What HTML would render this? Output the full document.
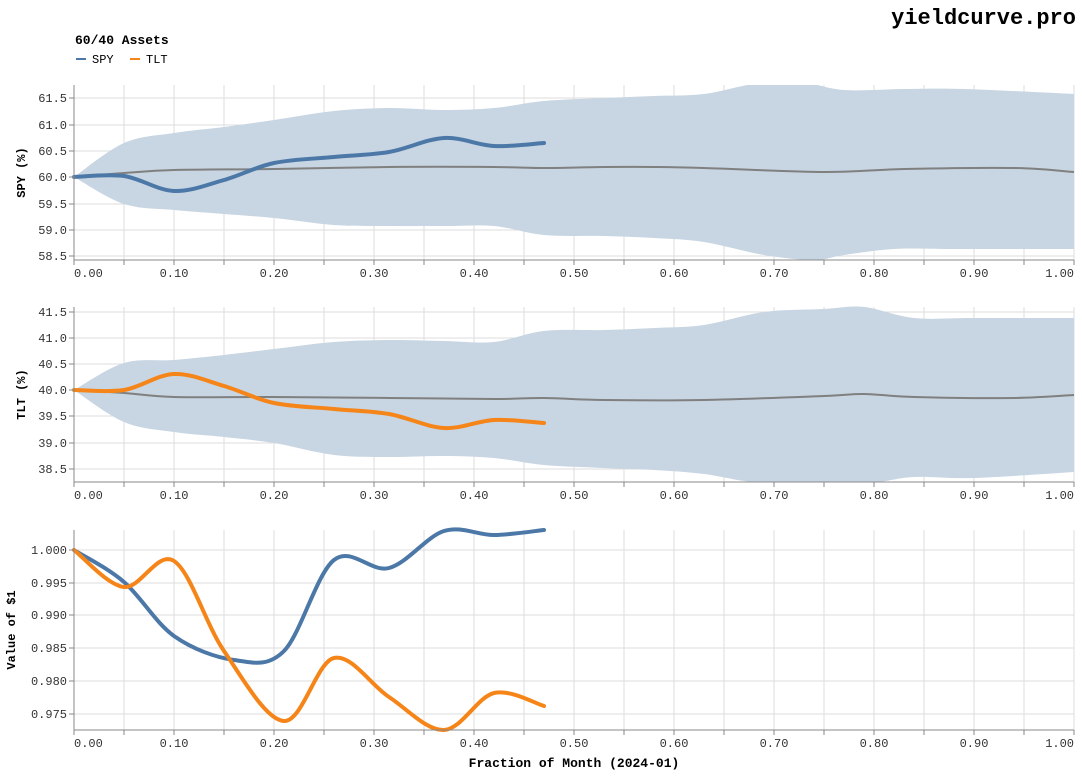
<!DOCTYPE html>
<html><head><meta charset="utf-8"><style>
body{margin:0;background:#fff}
svg text{font-family:"Liberation Mono",monospace}
</style></head><body>
<svg id="s" width="1082" height="775" xmlns="http://www.w3.org/2000/svg">
<text x="1076" y="24" text-anchor="end" font-size="22" font-weight="bold" fill="#000">yieldcurve.pro</text>
<text x="75" y="44" font-size="13" font-weight="bold" fill="#000">60/40 Assets</text>
<line x1="76" y1="59" x2="86" y2="59" stroke="#4c78a8" stroke-width="2"/>
<text x="92" y="63" font-size="12" fill="#000">SPY</text>
<line x1="130" y1="59" x2="140" y2="59" stroke="#f58518" stroke-width="2"/>
<text x="146" y="63" font-size="12" fill="#000">TLT</text>
<g id="g"></g>
</svg>
<script>
const NS="http://www.w3.org/2000/svg",g=document.getElementById('g');
function el(t,a,txt){const e=document.createElementNS(NS,t);for(const k in a)e.setAttribute(k,a[k]);if(txt!=null)e.textContent=txt;g.appendChild(e);return e;}
function cr(p){let d="M"+p[0][0]+","+p[0][1];for(let i=0;i<p.length-1;i++){const p0=p[i-1]||p[i],p1=p[i],p2=p[i+1],p3=p[i+2]||p2;
d+=" C"+(p1[0]+(p2[0]-p0[0])/6)+","+(p1[1]+(p2[1]-p0[1])/6)+" "+(p2[0]-(p3[0]-p1[0])/6)+","+(p2[1]-(p3[1]-p1[1])/6)+" "+p2[0]+","+p2[1];}return d;}
function rev(p){return p.slice().reverse();}
function panel(top,bot,ticks,lab,labY){
 el('rect',{x:74,y:top,width:1000,height:bot-top,fill:'#fff'});
 for(let i=0;i<=20;i++){const x=74+i*50;el('line',{x1:x,y1:top,x2:x,y2:bot,stroke:'#ddd'});}
 ticks.forEach(t=>{el('line',{x1:74,y1:t[1],x2:1074,y2:t[1],stroke:'#ddd'});});
}
function axes(top,bot,ticks,lab,labX){
 el('line',{x1:74,y1:top,x2:74,y2:bot,stroke:'#888'});
 el('line',{x1:74,y1:bot,x2:1074,y2:bot,stroke:'#888'});
 ticks.forEach(t=>{el('line',{x1:69,y1:t[1],x2:74,y2:t[1],stroke:'#888'});el('text',{x:67,y:t[1]+4,'font-size':12,'text-anchor':'end',fill:'#333'},t[0]);});
 for(let i=0;i<=20;i++){const x=74+i*50;el('line',{x1:x,y1:bot,x2:x,y2:bot+5,stroke:'#888'});
  if(i%2==0)el('text',{x:i==20?1074:x+(i==0?0:0),y:bot+17,'font-size':12,'text-anchor':i==0?'start':(i==20?'end':'middle'),fill:'#333'},(i/20).toFixed(2));}
 const cy=(top+bot)/2;el('text',{x:0,y:0,'font-size':12,'font-weight':'bold','text-anchor':'middle',transform:`translate(${labX},${cy}) rotate(-90)`,fill:'#000'},lab);
}
function band(u,l,m){el('path',{d:cr(u)+" L"+cr(rev(l)).slice(1)+" Z",fill:'#c8d5e2'});el('path',{d:cr(m),fill:'none',stroke:'#808080','stroke-width':2});}
function line(p,c){el('path',{d:cr(p),fill:'none',stroke:c,'stroke-width':4,'stroke-linecap':'round'});}
// Panel 1
let t1=[["61.5",98],["61.0",125],["60.5",151],["60.0",177],["59.5",204],["59.0",230],["58.5",256]];
panel(85,260,t1);
const c1=el('clipPath',{id:'c1'});
band([[74,177],[124,143],[174,133],[224,127],[274,120],[334,111],[389,108],[444,110],[494,108],[544,101],[604,98],[654,96],[704,94],[754,84],[800,82],[844,90],[904,89],[964,89],[1074,94]],
[[74,177],[124,204],[174,210],[224,214],[274,218],[334,225],[389,226],[444,226],[494,226],[544,235],[604,236],[654,238],[704,242],[764,255],[814,260],[844,255],[894,249],[944,249],[1014,249],[1074,249]],
[[74,177],[124,173],[174,170],[274,169],[389,167],[494,167],[544,168],[604,167],[654,167],[704,168],[824,172],[904,169],[1014,168],[1074,172]]);
el('rect',{x:74,y:75,width:1000,height:10,fill:'#fff'});
line([[74,177],[124,176],[174,191],[224,180],[274,163],[334,157],[389,152],[444,138],[494,146],[544,143]],'#4c78a8');
axes(85,260,t1,'SPY (%)',25);
// Panel 2
let t2=[["41.5",312],["41.0",338],["40.5",364],["40.0",390],["39.5",416],["39.0",443],["38.5",469]];
panel(307,482,t2);
band([[74,390],[124,363],[174,360],[224,355],[274,349],[334,342],[389,340],[444,341],[494,342],[544,331],[604,330],[654,328],[704,325],[764,312],[824,309],[864,307],[914,318],[974,318],[1074,318]],
[[74,390],[124,422],[174,432],[224,437],[274,443],[334,455],[389,457],[444,456],[494,458],[544,465],[604,468],[654,470],[704,474],[764,483],[864,483],[914,477],[974,478],[1074,472]],
[[74,390],[124,393],[174,397],[274,397],[389,398],[494,399],[544,398],[604,400],[704,400],[824,396],[864,394],[914,397],[1014,398],[1074,395]]);
el('rect',{x:74,y:482,width:1000,height:6,fill:'#fff'});
line([[74,390],[124,390],[174,374],[224,386],[274,403],[334,409],[389,414],[444,428],[494,420],[544,423]],'#f58518');
axes(307,482,t2,'TLT (%)',25);
// Panel 3
let t3=[["1.000",550],["0.995",583],["0.990",615],["0.985",648],["0.980",681],["0.975",714]];
panel(530,730,t3);
line([[74,550],[124,582],[174,636],[234,660],[284,651],[334,560],[389,568],[444,531],[494,535],[544,530]],'#4c78a8');
line([[74,550],[124,587],[174,561],[224,651],[284,721],[334,658],[389,697],[444,730],[494,693],[544,706]],'#f58518');
axes(530,730,t3,'Value of $1',15);
el('text',{x:574,y:767,'font-size':13,'font-weight':'bold','text-anchor':'middle',fill:'#000'},'Fraction of Month (2024-01)');
</script>
</body></html>
